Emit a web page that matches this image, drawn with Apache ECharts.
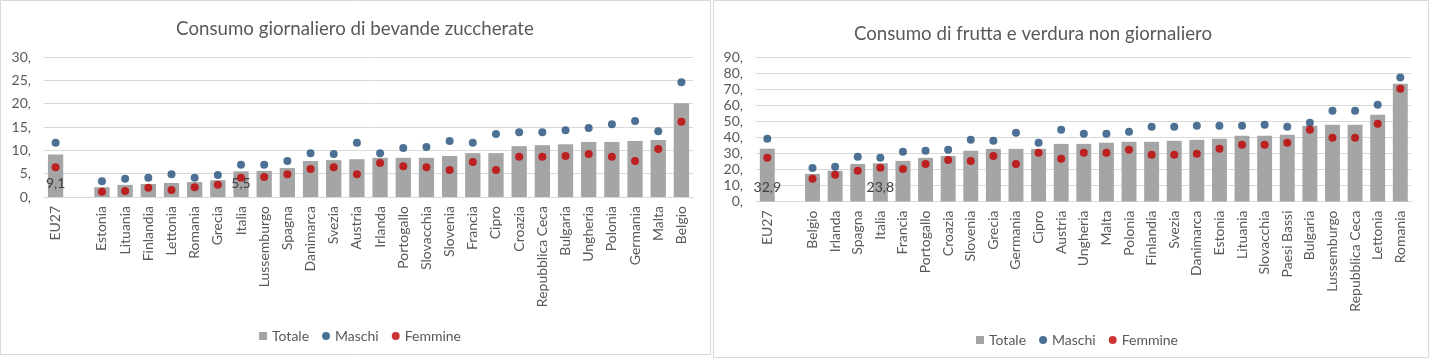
<!DOCTYPE html>
<html>
<head>
<meta charset="utf-8">
<script src="https://cdn.jsdelivr.net/npm/echarts@6/dist/echarts.min.js"></script>
<style>
html,body{margin:0;padding:0;background:#fff;}
#c{width:1430px;height:360px;}
</style>
</head>
<body>
<div id="c"></div>
<script>
// Left chart: Consumo giornaliero di bevande zuccherate
const catsA = ['EU27','','Estonia','Lituania','Finlandia','Lettonia','Romania','Grecia','Italia','Lussemburgo','Spagna','Danimarca','Svezia','Austria','Irlanda','Portogallo','Slovacchia','Slovenia','Francia','Cipro','Croazia','Repubblica Ceca','Bulgaria','Ungheria','Polonia','Germania','Malta','Belgio'];
const totA = [9.1,null,2.1,2.6,2.8,3.0,3.2,3.6,5.5,5.6,6.2,7.7,7.9,8.1,8.4,8.4,8.4,8.8,9.4,9.4,10.9,11.1,11.3,11.8,11.8,12.0,12.2,20.1];
const masA = [11.6,null,3.4,3.9,4.1,4.9,4.1,4.7,6.9,6.9,7.7,9.4,9.2,11.6,9.4,10.5,10.7,12.0,11.6,13.5,13.9,13.9,14.3,14.8,15.6,16.3,14.1,24.6];
const femA = [6.4,null,1.1,1.3,2.0,1.5,2.1,2.6,4.1,4.3,4.9,6.0,6.4,4.9,7.3,6.6,6.4,5.8,7.5,5.8,8.6,8.6,8.8,9.2,8.6,7.7,10.3,16.1];
const labeledA = ['EU27','Italia'];

// Right chart: Consumo di frutta e verdura non giornaliero
const catsB = ['EU27','','Belgio','Irlanda','Spagna','Italia','Francia','Portogallo','Croazia','Slovenia','Grecia','Germania','Cipro','Austria','Ungheria','Malta','Polonia','Finlandia','Svezia','Danimarca','Estonia','Lituania','Slovacchia','Paesi Bassi','Bulgaria','Lussemburgo','Repubblica Ceca','Lettonia','Romania'];
const totB = [32.9,null,17.2,19.1,23.4,23.8,25.3,27.2,28.4,31.6,32.8,32.8,32.8,35.9,35.9,36.6,37.2,37.2,37.8,38.4,39.1,41.0,41.0,41.6,47.2,47.8,47.8,54.1,73.4];
const masB = [39.1,null,20.9,21.6,27.8,27.2,31.0,31.6,32.2,38.4,37.8,42.8,36.6,44.7,42.2,42.2,43.4,46.6,46.6,47.2,47.2,47.2,47.8,46.6,49.1,56.6,56.6,60.3,77.2];
const femB = [27.2,null,14.1,16.6,19.1,21.0,20.3,23.4,25.9,25.3,28.4,23.4,30.3,26.6,30.3,30.3,32.2,29.1,29.1,29.7,32.8,35.3,35.3,36.6,44.7,39.7,39.7,48.4,70.3];
const labeledB = ['EU27','Italia'];

const titles = ['Consumo giornaliero di bevande zuccherate','Consumo di frutta e verdura non giornaliero'];
const ticksA = {min:0,max:30,interval:5};
const ticksB = {min:0,max:90,interval:10};

const FONT = 'Lato';
const TXT = '#595959';
const GRIDC = '#d9d9d9';
const BARC = '#a5a5a5';
const MASC = '#1f4e79';
const FEMC = '#c00000';

function barData(cats, vals, labeled){
  return vals.map((v,i)=>{
    if (labeled.indexOf(cats[i])>=0) {
      return {value:v, label:{show:true}};
    }
    return v;
  });
}

function xAxis(idx, cats){
  return {
    type:'category', gridIndex:idx, data:cats,
    axisLine:{lineStyle:{color:GRIDC}}, axisTick:{show:false},
    axisLabel:{rotate:90, interval:0, margin:9, color:TXT, fontFamily:FONT, fontSize:14}
  };
}
function yAxis(idx, t){
  return {
    type:'value', gridIndex:idx, min:t.min, max:t.max, interval:t.interval,
    axisLine:{show:false}, axisTick:{show:false},
    splitLine:{lineStyle:{color:GRIDC}},
    axisLabel:{margin:13, color:TXT, fontFamily:FONT, fontSize:14, formatter:v=>v+','}
  };
}
function seriesFor(idx, cats, tot, mas, fem, labeled){
  return [
    {name:'Totale', type:'bar', xAxisIndex:idx, yAxisIndex:idx, barWidth:'66%',
     itemStyle:{color:BARC}, data:barData(cats, tot, labeled),
     label:{show:false, position:'insideBottom', distance:7, color:'#404040', fontFamily:FONT, fontSize:14,
            formatter:p=>String(p.value).replace('.',',')}},
    {name:'Maschi', type:'scatter', xAxisIndex:idx, yAxisIndex:idx, symbolSize:8,
     itemStyle:{color:MASC}, data:mas, z:3},
    {name:'Femmine', type:'scatter', xAxisIndex:idx, yAxisIndex:idx, symbolSize:8,
     itemStyle:{color:FEMC}, data:fem, z:4}
  ];
}
function legend(left, top){
  return {
    left:left, top:top, itemGap:13, itemWidth:8, itemHeight:8,
    textStyle:{color:TXT, fontFamily:FONT, fontSize:14},
    data:[{name:'Totale', icon:'rect'},{name:'Maschi', icon:'circle'},{name:'Femmine', icon:'circle'}]
  };
}

const chart = echarts.init(document.getElementById('c'), null, {renderer:'canvas'});
chart.setOption({
  animation:false,
  backgroundColor:'#fff',
  graphic:[
    {type:'rect', shape:{x:0.5,y:0.5,width:710,height:354}, style:{fill:'none', stroke:'#d9d9d9', lineWidth:1}, silent:true},
    {type:'rect', shape:{x:713.5,y:0.5,width:715,height:357}, style:{fill:'none', stroke:'#d9d9d9', lineWidth:1}, silent:true}
  ],
  title:[
    {text:titles[0], left:350, top:14, textAlign:'center', textStyle:{color:TXT, fontFamily:FONT, fontWeight:'normal', fontSize:18.7}},
    {text:titles[1], left:1028, top:19, textAlign:'center', textStyle:{color:TXT, fontFamily:FONT, fontWeight:'normal', fontSize:18.7}}
  ],
  legend:[legend(254,324), legend(971,328)],
  grid:[
    {left:44, top:57, width:649, height:140},
    {left:756, top:57, width:655.6, height:144.5}
  ],
  xAxis:[xAxis(0,catsA), xAxis(1,catsB)],
  yAxis:[yAxis(0,ticksA), yAxis(1,ticksB)],
  series:[].concat(seriesFor(0,catsA,totA,masA,femA,labeledA), seriesFor(1,catsB,totB,masB,femB,labeledB))
});
</script>
</body>
</html>
